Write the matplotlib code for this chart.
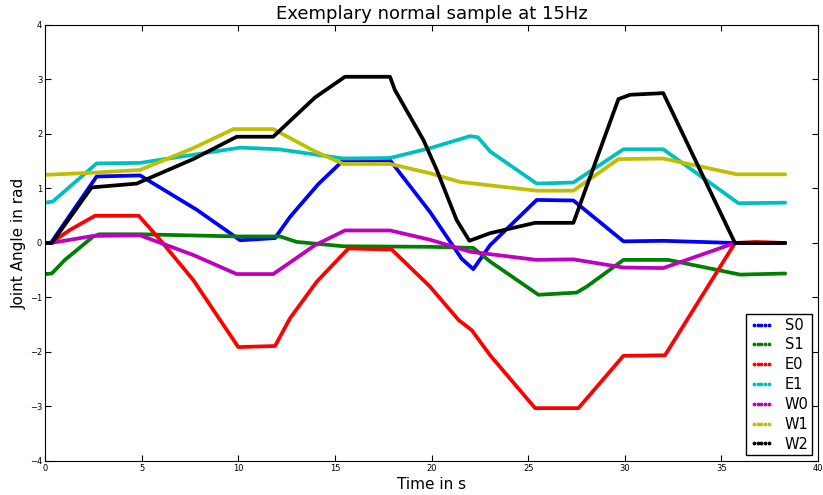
import matplotlib
matplotlib.use("Agg")
import matplotlib.pyplot as plt
from matplotlib.lines import Line2D

# joint angle key points (time in s, angle in rad)
s0_t = [0, 0.3, 2.67, 4.92, 7.85, 10.1, 11.9, 12.68, 14.14, 15.44, 17.85, 18.37, 19.92,
        21.56, 22.16, 23.03, 25.44, 27.34, 29.93, 32.0, 35.7, 38.3]
s0_v = [0, 0, 1.22, 1.24, 0.61, 0.05, 0.09, 0.48, 1.08, 1.52, 1.52, 1.28, 0.57,
        -0.29, -0.48, -0.04, 0.79, 0.78, 0.03, 0.04, 0.0, 0.0]

s1_t = [0, 0.35, 1.03, 2.5, 2.8, 4.92, 10.0, 12.16, 13.02, 15.44, 19.92, 22.16, 23.03,
        25.53, 27.51, 28.03, 29.93, 32.25, 35.96, 38.3]
s1_v = [-0.57, -0.56, -0.31, 0.12, 0.16, 0.16, 0.12, 0.12, 0.02, -0.06, -0.07, -0.09, -0.34,
        -0.95, -0.91, -0.8, -0.31, -0.31, -0.58, -0.56]

e0_t = [0, 0.3, 1.29, 2.59, 4.85, 5.95, 7.67, 10.0, 11.9, 12.68, 14.06, 15.7, 17.94, 19.92,
        21.39, 22.08, 23.03, 25.36, 27.6, 29.93, 32.08, 35.7, 36.8, 38.3]
e0_v = [0, 0, 0.24, 0.5, 0.5, 0.06, -0.68, -1.91, -1.89, -1.38, -0.71, -0.1, -0.12, -0.8,
        -1.41, -1.6, -2.06, -3.03, -3.03, -2.07, -2.06, 0.0, 0.02, 0.0]

e1_t = [0, 0.4, 2.67, 4.92, 10.1, 12.07, 15.44, 17.85, 19.92, 21.99, 22.4, 23.03, 25.44,
        27.34, 29.93, 31.99, 35.88, 38.3]
e1_v = [0.74, 0.76, 1.46, 1.47, 1.75, 1.72, 1.55, 1.56, 1.74, 1.96, 1.94, 1.68, 1.09,
        1.11, 1.72, 1.72, 0.73, 0.74]

w0_t = [0, 0.3, 2.5, 4.92, 7.67, 9.92, 11.81, 13.97, 15.52, 17.85, 19.92, 21.99, 25.44,
        27.34, 29.93, 31.99, 35.7, 38.3]
w0_v = [0, 0, 0.13, 0.14, -0.22, -0.57, -0.57, -0.04, 0.23, 0.23, 0.06, -0.16, -0.31,
        -0.3, -0.45, -0.46, 0.0, 0.0]

w1_t = [0, 2.5, 4.92, 7.67, 9.75, 11.81, 13.97, 15.44, 17.85, 19.92, 21.47, 25.44, 27.34,
        29.67, 31.99, 35.79, 38.3]
w1_v = [1.25, 1.29, 1.34, 1.74, 2.09, 2.09, 1.68, 1.45, 1.45, 1.28, 1.12, 0.96, 0.96,
        1.54, 1.55, 1.26, 1.26]

w2_t = [0, 0.35, 2.41, 4.74, 7.67, 9.92, 11.81, 13.97, 15.52, 17.85, 18.1, 19.58, 20.27,
        21.3, 21.96, 23.03, 25.36, 27.34, 29.67, 30.27, 31.99, 35.7, 38.3]
w2_v = [0, 0, 1.02, 1.09, 1.54, 1.95, 1.95, 2.67, 3.05, 3.05, 2.81, 1.89, 1.34,
        0.42, 0.04, 0.18, 0.37, 0.37, 2.64, 2.72, 2.75, 0.0, 0.0]

names = ["S0", "S1", "E0", "E1", "W0", "W1", "W2"]
colors = ["b", "g", "r", "c", "m", "y", "k"]
series = [(s0_t, s0_v), (s1_t, s1_v), (e0_t, e0_v), (e1_t, e1_v),
          (w0_t, w0_v), (w1_t, w1_v), (w2_t, w2_v)]

fig = plt.figure(figsize=(8.23, 4.95), dpi=100)
ax = fig.add_axes([0.0547, 0.0687, 0.9393, 0.8808])

for (t, v), c in zip(series, colors):
    ax.plot(t, v, color=c, lw=2.7, solid_capstyle="round", solid_joinstyle="round")

ax.set_xlim(0, 40)
ax.set_ylim(-4, 4)
ax.set_xticks(range(0, 41, 5))
ax.set_yticks(range(-4, 5))
ax.tick_params(direction="in", top=True, right=True, labelsize=6, length=4, pad=2)
ax.set_title("Exemplary normal sample at 15Hz", fontsize=13, pad=4)
ax.set_xlabel("Time in s", fontsize=11, labelpad=3)
ax.set_ylabel("Joint Angle in rad", fontsize=11, labelpad=2)

# legend shows dotted sample markers like the original
handles = [Line2D([], [], color=c, marker=".", linestyle="none", markersize=3.5) for c in colors]
leg = ax.legend(handles, names, loc="lower right", numpoints=5, fontsize=10.5,
                fancybox=False, framealpha=1, borderaxespad=0.4, borderpad=0.25,
                handlelength=1.6, handletextpad=0.8, labelspacing=0.33)
leg.get_frame().set_edgecolor("black")

fig.savefig("out.png", dpi=100)
